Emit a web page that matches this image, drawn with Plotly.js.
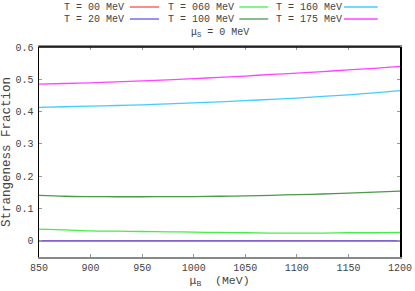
<!DOCTYPE html>
<html>
<head>
<meta charset="utf-8">
<script src="https://cdn.plot.ly/plotly-3.0.1.min.js"></script>
<style>html,body{margin:0;padding:0;background:#fff;}#chart{width:415px;height:291px;}</style>
</head>
<body>
<div id="chart"></div>
<script>
// ---- data ----
const muB = [850, 875, 900, 925, 950, 975, 1000, 1025, 1050, 1075, 1100, 1125, 1150, 1175, 1200];
const frac_T00  = [0, 0, 0, 0, 0, 0, 0, 0, 0, 0, 0, 0, 0, 0, 0];
const frac_T20  = [0, 0, 0, 0, 0, 0, 0, 0, 0, 0, 0, 0, 0, 0, 0];
const frac_T060 = [0.036, 0.034, 0.031, 0.030, 0.029, 0.028, 0.027, 0.026, 0.025, 0.024, 0.024, 0.024, 0.025, 0.025, 0.026];
const frac_T100 = [0.141, 0.138, 0.137, 0.1365, 0.1365, 0.137, 0.137, 0.138, 0.139, 0.141, 0.143, 0.145, 0.148, 0.151, 0.154];
const frac_T160 = [0.413, 0.415, 0.417, 0.419, 0.421, 0.424, 0.427, 0.430, 0.434, 0.438, 0.442, 0.447, 0.452, 0.458, 0.465];
const frac_T175 = [0.485, 0.487, 0.489, 0.492, 0.495, 0.498, 0.502, 0.506, 0.510, 0.515, 0.519, 0.524, 0.529, 0.534, 0.540];
const seriesNames = ["T = 00 MeV", "T = 20 MeV", "T = 060 MeV", "T = 100 MeV", "T = 160 MeV", "T = 175 MeV"];
const seriesColors = ["#ff4b4b", "#5a5af0", "#44ee44", "#4a9a4a", "#44ccff", "#ff44ff"];
const seriesValues = [frac_T00, frac_T20, frac_T060, frac_T100, frac_T160, frac_T175];
const xTickVals = [850, 900, 950, 1000, 1050, 1100, 1150, 1200];
const yTickVals = [0, 0.1, 0.2, 0.3, 0.4, 0.5, 0.6];

// ---- geometry (pixels) ----
const W = 415, H = 291;
const L = 39, R = 400, T = 47, B = 257;
const px2x = p => (p - L) / (R - L);
const py2y = p => (B - p) / (B - T);
const mono = "Liberation Mono, Courier New, monospace";
const txtColor = "#444";

const traces = seriesValues.map((v, i) => ({
  x: muB, y: v, type: "scatter", mode: "lines",
  line: {color: seriesColors[i], width: 1.3, shape: "spline"},
  name: seriesNames[i], showlegend: false, hoverinfo: "skip"
}));

// legend layout: column-major, 3 columns x 2 rows
const colText = [62, 165.7, 274.3];
const colLine = [[130, 159], [239.3, 268.3], [344, 377.7]];
const rowY = [7, 19];
const annotations = [];
const shapes = [];
seriesNames.forEach((n, i) => {
  const c = Math.floor(i / 2), r = i % 2;
  annotations.push({
    xref: "paper", yref: "paper", x: px2x(colText[c]), y: py2y(rowY[r]),
    xanchor: "left", yanchor: "middle", showarrow: false, text: n,
    font: {family: mono, size: 10, color: txtColor}
  });
  shapes.push({
    type: "line", xref: "paper", yref: "paper",
    x0: px2x(colLine[c][0]), x1: px2x(colLine[c][1]),
    y0: py2y(rowY[r]), y1: py2y(rowY[r]),
    line: {color: seriesColors[i], width: 1.3}
  });
});
annotations.push({
  xref: "paper", yref: "paper", x: px2x(220), y: py2y(32.5),
  xanchor: "center", yanchor: "middle", showarrow: false,
  text: "μ<sub>S</sub> = 0 MeV", font: {family: mono, size: 10, color: txtColor}
});
// top border in black
shapes.push({type: "line", xref: "paper", yref: "paper", x0: 0, x1: 1, y0: 1, y1: 1,
  line: {color: "#000", width: 1.5}, layer: "above"});

const layout = {
  width: W, height: H,
  margin: {l: L, r: W - R, t: T, b: H - B, pad: 0},
  paper_bgcolor: "#fff", plot_bgcolor: "#fff",
  showlegend: false,
  xaxis: {
    range: [850, 1200], tickvals: xTickVals, ticktext: xTickVals.map(String),
    ticks: "inside", ticklen: 3, tickcolor: "#999", tickwidth: 1,
    showline: true, linecolor: "#888", linewidth: 2, mirror: "ticks",
    showgrid: false, zeroline: false,
    tickfont: {family: mono, size: 10, color: txtColor},
    title: {text: "μ<sub>B</sub>  (MeV)", font: {family: mono, size: 11.5, color: txtColor}, standoff: 1},
    automargin: false
  },
  yaxis: {
    range: [-0.05, 0.6], tickvals: yTickVals,
    ticks: "inside", ticklen: 3, tickcolor: "#999", tickwidth: 1,
    showline: true, linecolor: "#000", linewidth: 1.5, mirror: "ticks",
    showgrid: false, zeroline: false, ticklabelstandoff: 2,
    tickfont: {family: mono, size: 10, color: txtColor},
    title: {text: "Strangeness Fraction", font: {family: mono, size: 12.5, color: txtColor}, standoff: 4},
    automargin: false
  },
  annotations: annotations,
  shapes: shapes
};

Plotly.newPlot("chart", traces, layout, {staticPlot: true, displayModeBar: false});
</script>
</body>
</html>
